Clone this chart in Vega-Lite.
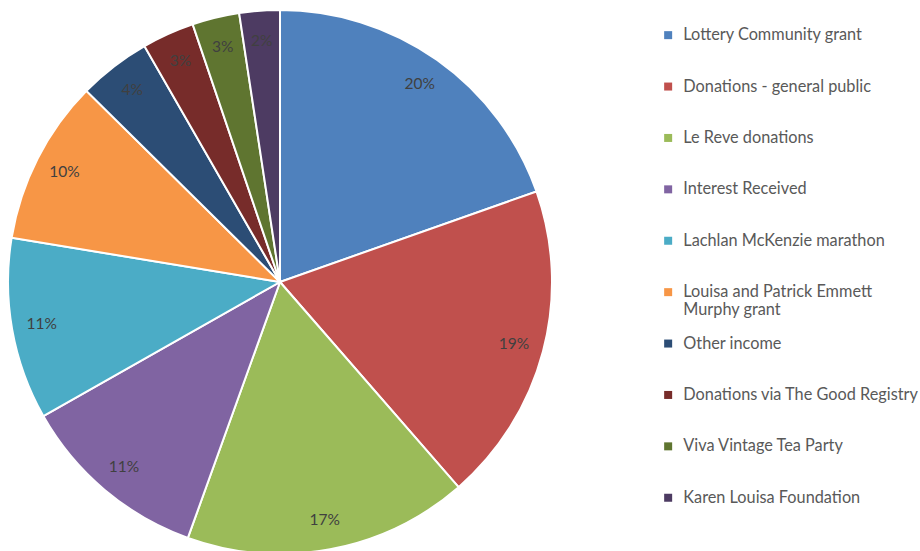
{
  "$schema": "https://vega.github.io/schema/vega-lite/v6.json",
  "width": 560,
  "height": 564,
  "padding": 0,
  "autosize": {"type": "pad"},
  "background": "white",
  "config": {"view": {"stroke": null}, "font": "Lato"},
  "data": {
    "values": [
      {"source": "Lottery Community grant", "share": 0.196, "order": 1},
      {"source": "Donations - general public", "share": 0.190, "order": 2},
      {"source": "Le Reve donations", "share": 0.169, "order": 3},
      {"source": "Interest Received", "share": 0.113, "order": 4},
      {"source": "Lachlan McKenzie marathon", "share": 0.108, "order": 5},
      {"source": "Louisa and Patrick Emmett Murphy grant", "share": 0.098, "order": 6},
      {"source": "Other income", "share": 0.043, "order": 7},
      {"source": "Donations via The Good Registry", "share": 0.031, "order": 8},
      {"source": "Viva Vintage Tea Party", "share": 0.028, "order": 9},
      {"source": "Karen Louisa Foundation", "share": 0.024, "order": 10}
    ]
  },
  "encoding": {
    "theta": {"field": "share", "type": "quantitative", "stack": true},
    "order": {"field": "order", "type": "quantitative"},
    "color": {
      "field": "source",
      "type": "nominal",
      "sort": ["Lottery Community grant", "Donations - general public", "Le Reve donations", "Interest Received", "Lachlan McKenzie marathon", "Louisa and Patrick Emmett Murphy grant", "Other income", "Donations via The Good Registry", "Viva Vintage Tea Party", "Karen Louisa Foundation"],
      "scale": {
        "domain": ["Lottery Community grant", "Donations - general public", "Le Reve donations", "Interest Received", "Lachlan McKenzie marathon", "Louisa and Patrick Emmett Murphy grant", "Other income", "Donations via The Good Registry", "Viva Vintage Tea Party", "Karen Louisa Foundation"],
        "range": ["#4F81BD", "#C0504D", "#9BBB59", "#8064A2", "#4BACC6", "#F79646", "#2C4D75", "#772C2A", "#5F7530", "#4D3B62"]
      },
      "legend": {
        "title": null,
        "orient": "none",
        "legendX": 660,
        "legendY": 27,
        "symbolType": "square",
        "symbolSize": 64,
        "symbolStrokeWidth": 0,
        "labelFont": "Lato",
        "labelFontSize": 16.3,
        "labelColor": "#595959",
        "labelLimit": 300,
        "labelOffset": 7,
        "gridAlign": "all",
        "rowPadding": 16.4,
        "labelExpr": "datum.label == 'Louisa and Patrick Emmett Murphy grant' ? ['Louisa and Patrick Emmett', 'Murphy grant'] : datum.label"
      }
    }
  },
  "layer": [
    {
      "mark": {"type": "arc", "outerRadius": 272, "stroke": "white", "strokeWidth": 2}
    },
    {
      "mark": {"type": "text", "radius": 242, "font": "Lato", "fontSize": 15.5, "fill": "#404040"},
      "encoding": {
        "text": {"field": "share", "type": "quantitative", "format": ".0%"},
        "color": {"value": "#404040"}
      }
    }
  ]
}
